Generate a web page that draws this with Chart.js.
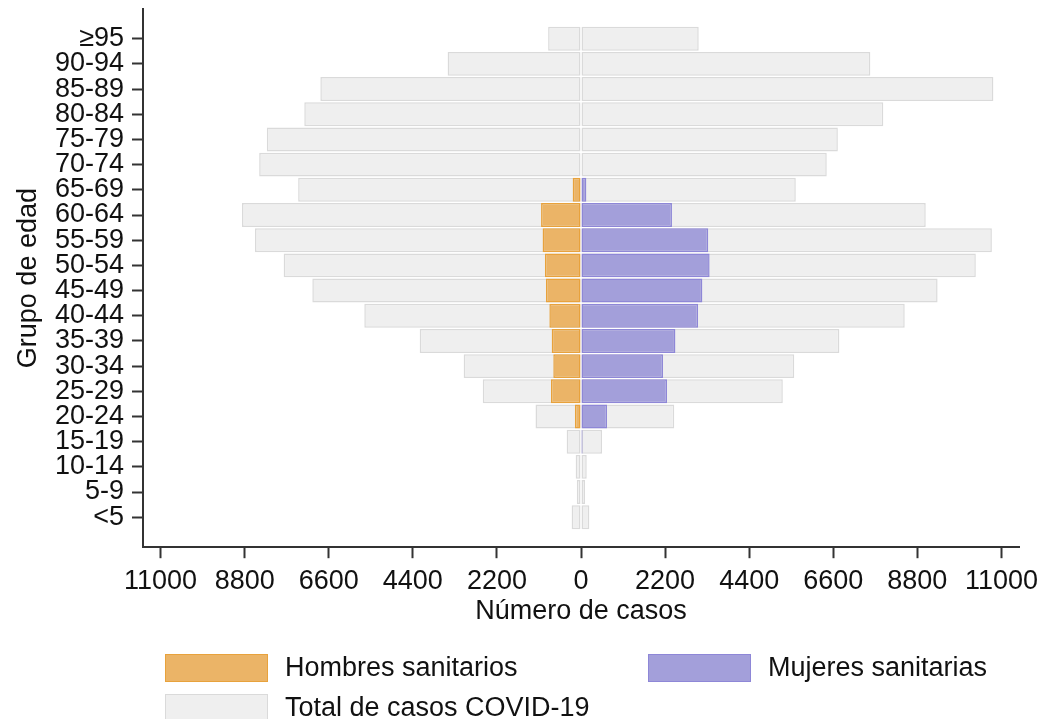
<!DOCTYPE html>
<html>
<head>
<meta charset="utf-8">
<script src="https://cdn.jsdelivr.net/npm/chart.js@4/dist/chart.umd.min.js"></script>
<style>
  body { margin: 0; background: #fff; font-family: "Liberation Sans", Arial, sans-serif; }
  #wrap { position: relative; width: 1046px; height: 719px; overflow: hidden; }
  #legend { position: absolute; left: 0; top: 0; }
  .item { position: absolute; display: flex; align-items: center; font-size: 27px; color: #111; white-space: nowrap; }
  .sw { width: 103px; height: 28px; box-sizing: border-box; border: 1.5px solid; margin-right: 17px; }
</style>
</head>
<body>
<div id="wrap">
  <canvas id="pyramid" width="1046" height="719"></canvas>
  <div id="legend"></div>
</div>
<script>
// age groups, bottom to top
const ageGroups = ['<5', '5-9', '10-14', '15-19', '20-24', '25-29', '30-34', '35-39', '40-44', '45-49',
  '50-54', '55-59', '60-64', '65-69', '70-74', '75-79', '80-84', '85-89', '90-94', '≥95'];

// total COVID-19 cases (left side = men, right side = women)
const totalMen = [245, 110, 140, 375, 1190, 2570, 3070, 4220, 5670, 7030,
  7780, 8530, 8870, 7400, 8420, 8220, 7240, 6820, 3490, 860];
const totalWomen = [218, 105, 150, 550, 2440, 5280, 5580, 6760, 8470, 9330,
  10330, 10750, 9020, 5620, 6430, 6720, 7910, 10790, 7570, 3080];

// health workers
const menHealth = [0, 0, 0, 10, 160, 786, 725, 767, 828, 917,
  945, 1005, 1045, 218, 0, 0, 0, 0, 0, 0];
const womenHealth = [0, 0, 0, 40, 680, 2250, 2145, 2470, 3065, 3175,
  3365, 3330, 2380, 140, 0, 0, 0, 0, 0, 0];

const xTicks = [-11000, -8800, -6600, -4400, -2200, 0, 2200, 4400, 6600, 8800, 11000];

const grey = '#EFEFEF', greyLine = '#DADADA';
const orange = '#EBB467', orangeLine = '#E8A23C';
const purple = '#A39FDA', purpleLine = '#8E87D7';

const toPoints = (arr, sign) => arr.map((v, i) => ({ x: sign * v, y: i }));

const barStyle = { grouped: false, borderWidth: 1.5, borderSkipped: false, categoryPercentage: 1, barPercentage: 0.95 };

// higher order is drawn first, so the totals sit behind the health worker bars
const datasets = [
  Object.assign({ label: 'Hombres sanitarios', data: toPoints(menHealth, -1), backgroundColor: orange, borderColor: orangeLine, order: 1 }, barStyle),
  Object.assign({ label: 'Mujeres sanitarias', data: toPoints(womenHealth, 1), backgroundColor: purple, borderColor: purpleLine, order: 1 }, barStyle),
  Object.assign({ label: 'Total de casos COVID-19', data: toPoints(totalMen, -1), backgroundColor: grey, borderColor: greyLine, order: 2 }, barStyle),
  Object.assign({ label: 'Total mujeres', data: toPoints(totalWomen, 1), backgroundColor: grey, borderColor: greyLine, order: 2 }, barStyle)
];

const axisColor = '#333';
const font = { family: '"Liberation Sans", Arial, sans-serif', size: 27 };

new Chart(document.getElementById('pyramid'), {
  type: 'bar',
  data: { datasets },
  options: {
    indexAxis: 'y',
    responsive: false,
    animation: false,
    layout: { padding: { top: 9, right: 27, bottom: 91, left: 0 } },
    plugins: { legend: { display: false }, tooltip: { enabled: false } },
    scales: {
      x: {
        type: 'linear',
        min: -11460,
        max: 11460,
        afterBuildTicks: s => { s.ticks = xTicks.map(v => ({ value: v })); },
        ticks: { callback: v => String(Math.abs(v)), color: '#111', font, padding: 7, maxRotation: 0, autoSkip: false },
        grid: { drawOnChartArea: false, drawTicks: true, tickLength: 11, tickColor: axisColor, tickWidth: 2 },
        border: { display: true, color: axisColor, width: 2 },
        title: { display: true, text: 'Número de casos', color: '#111', font, padding: { top: -9, bottom: 0 } }
      },
      y: {
        type: 'linear',
        offset: false,
        min: -1.19,
        max: 20.18,
        afterBuildTicks: s => { s.ticks = ageGroups.map((_, i) => ({ value: i })); },
        // fixed width, and no extra room for the end labels (they sit well inside the axis)
        afterFit: s => { s.width = 143; s.paddingTop = 0; s.paddingBottom = 0; },
        ticks: { callback: v => ageGroups[v], color: '#111', font, padding: 8, autoSkip: false },
        grid: { offset: false, drawOnChartArea: false, drawTicks: true, tickLength: 11, tickColor: axisColor, tickWidth: 2 },
        border: { display: true, color: axisColor, width: 2 },
        title: { display: true, text: 'Grupo de edad', color: '#111', font, padding: { top: 12, bottom: 0 } }
      }
    }
  }
});

// legend laid out in two columns like the original
const legendItems = [
  { text: 'Hombres sanitarios', fill: orange, line: orangeLine, left: 165, top: 652 },
  { text: 'Mujeres sanitarias', fill: purple, line: purpleLine, left: 648, top: 652 },
  { text: 'Total de casos COVID-19', fill: grey, line: greyLine, left: 165, top: 692 }
];
const legend = document.getElementById('legend');
legendItems.forEach(it => {
  const div = document.createElement('div');
  div.className = 'item';
  div.style.left = it.left + 'px';
  div.style.top = it.top + 'px';
  div.innerHTML = `<span class="sw" style="background:${it.fill};border-color:${it.line}"></span><span>${it.text}</span>`;
  legend.appendChild(div);
});
</script>
</body>
</html>
